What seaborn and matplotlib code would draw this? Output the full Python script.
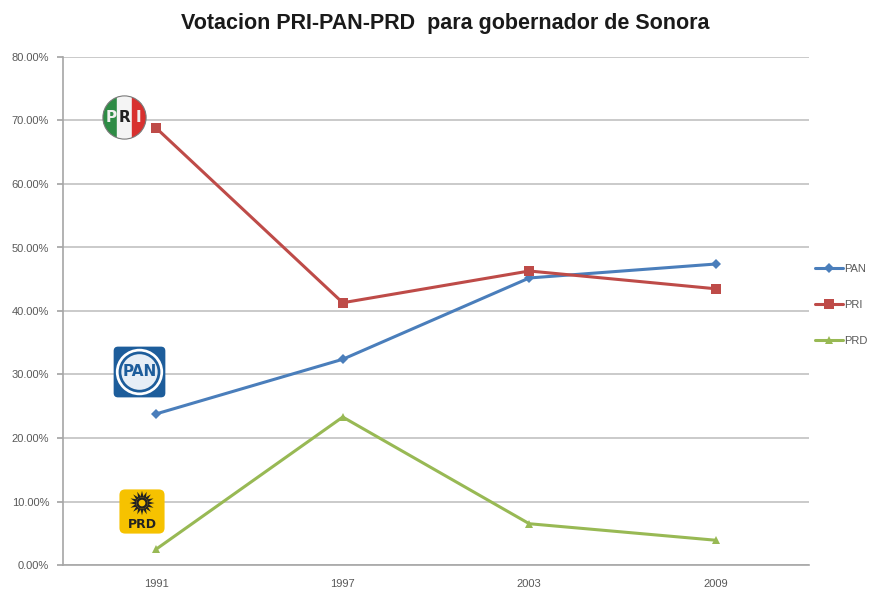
import numpy as np
import pandas as pd
import matplotlib
matplotlib.use("Agg")
import matplotlib.pyplot as plt
import seaborn as sns
from matplotlib.patches import Circle, Rectangle, FancyBboxPatch, Polygon
from matplotlib.ticker import PercentFormatter

years = ["1991", "1997", "2003", "2009"]
pan = [23.8, 32.4, 45.2, 47.4]
pri = [68.8, 41.3, 46.3, 43.5]
prd = [2.5, 23.3, 6.5, 3.9]
parties = ["PAN", "PRI", "PRD"]
title = "Votacion PRI-PAN-PRD  para gobernador de Sonora"

df = pd.DataFrame({
    "year": years * 3,
    "value": pan + pri + prd,
    "party": ["PAN"] * 4 + ["PRI"] * 4 + ["PRD"] * 4,
})

sns.set_theme(style="white")
plt.rcParams["font.family"] = ["Liberation Sans", "DejaVu Sans"]

W, H = 870, 591
fig = plt.figure(figsize=(W / 100, H / 100), dpi=100)
ax = fig.add_axes([63 / W, 1 - 565 / H, (809 - 63) / W, (565 - 57) / H])

palette = {"PAN": "#4a7ebb", "PRI": "#be4b48", "PRD": "#98b954"}
markers = {"PAN": "D", "PRI": "s", "PRD": "^"}
sizes_m = {"PAN": 5, "PRI": 7, "PRD": 6}
for p in parties:
    sub = df[df.party == p]
    sns.lineplot(data=sub, x="year", y="value", color=palette[p], marker=markers[p],
                 markersize=sizes_m[p], markeredgewidth=0, linewidth=2.2, ax=ax,
                 label=p, sort=False)

ax.set_xlim(-0.5, 3.5)
ax.set_ylim(0, 80)
ax.set_yticks(np.arange(0, 81, 10))
ax.yaxis.set_major_formatter(PercentFormatter(decimals=2))
ax.grid(axis="y", color="#c6c6c6", linewidth=1.3)
ax.grid(axis="x", visible=False)
ax.set_xlabel("")
ax.set_ylabel("")
for s in ["top", "right"]:
    ax.spines[s].set_visible(False)
for s in ["left", "bottom"]:
    ax.spines[s].set_color("#a6a6a6")
    ax.spines[s].set_linewidth(1.2)
ax.tick_params(axis="both", labelsize=8, colors="#595959", length=0, pad=8)
ax.tick_params(axis="y", length=4, color="#a6a6a6", pad=6, direction="out", left=True)
ax.tick_params(axis="x", pad=10)
for lab in ax.get_yticklabels() + ax.get_xticklabels():
    lab.set_color("#595959")

leg = ax.legend(loc="center left", bbox_to_anchor=(1.0, 0.512), frameon=False,
                fontsize=8, handlelength=2.6, handletextpad=0.1, labelspacing=2.35,
                borderaxespad=0.1)
for t in leg.get_texts():
    t.set_color("#595959")

fig.text(445 / W, 1 - 24 / H, title, ha="center", va="center", fontsize=15.5,
         fontweight="bold", color="#1a1a1a")

def logo_ax(x0, y0, x1, y1):
    a = fig.add_axes([x0 / W, 1 - y1 / H, (x1 - x0) / W, (y1 - y0) / H])
    a.set_xlim(0, 1)
    a.set_ylim(0, 1)
    a.axis("off")
    return a

# PRI logo
a = logo_ax(102, 95, 147, 140)
clip = Circle((0.5, 0.5), 0.48, transform=a.transData)
for i, c in enumerate(["#2e8b45", "#f4f4f4", "#d8312f"]):
    r = Rectangle((0.02 + i * 0.32, 0), 0.33, 1, color=c)
    r.set_clip_path(clip)
    a.add_patch(r)
a.add_patch(Circle((0.5, 0.5), 0.48, fill=False, ec="#7a7a7a", lw=0.8))
for x, l, c in [(0.2, "P", "#f0f0f0"), (0.5, "R", "#222222"), (0.8, "I", "#f0f0f0")]:
    a.text(x, 0.5, l, ha="center", va="center", fontsize=11, fontweight="bold",
           color=c, family="DejaVu Sans")

# PAN logo
a = logo_ax(112, 345, 167, 399)
a.add_patch(FancyBboxPatch((0.03, 0.03), 0.94, 0.94, boxstyle="round,pad=0,rounding_size=0.08",
                           fc="#1d5d9b", ec="none"))
a.add_patch(Circle((0.5, 0.5), 0.43, fc="white", ec="none"))
a.add_patch(Circle((0.5, 0.5), 0.38, fc="#1d5d9b", ec="none"))
a.add_patch(Circle((0.5, 0.5), 0.33, fc="#e6eef6", ec="none"))
a.text(0.5, 0.5, "PAN", ha="center", va="center", fontsize=11, fontweight="bold",
       color="#1d5d9b", family="DejaVu Sans Condensed")

# PRD logo
a = logo_ax(118, 488, 166, 535)
a.add_patch(FancyBboxPatch((0.03, 0.03), 0.94, 0.94, boxstyle="round,pad=0,rounding_size=0.12",
                           fc="#f6c200", ec="none"))
cx, cy = 0.5, 0.68
for k in range(16):
    ang = 2 * np.pi * k / 16
    d1 = np.array([np.cos(ang), np.sin(ang)])
    perp = np.array([-d1[1], d1[0]])
    p0 = np.array([cx, cy]) + d1 * 0.12 + perp * 0.035
    p1 = np.array([cx, cy]) + d1 * 0.12 - perp * 0.035
    p2 = np.array([cx, cy]) + d1 * 0.26
    a.add_patch(Polygon([p0, p1, p2], closed=True, fc="#222222", ec="none"))
a.add_patch(Circle((cx, cy), 0.12, fc="#222222", ec="none"))
a.add_patch(Circle((cx, cy), 0.07, fc="#f6c200", ec="none"))
a.text(0.5, 0.23, "PRD", ha="center", va="center", fontsize=9, fontweight="bold",
       color="#222222", family="DejaVu Sans")

fig.savefig("out.png", dpi=100, facecolor="white")
